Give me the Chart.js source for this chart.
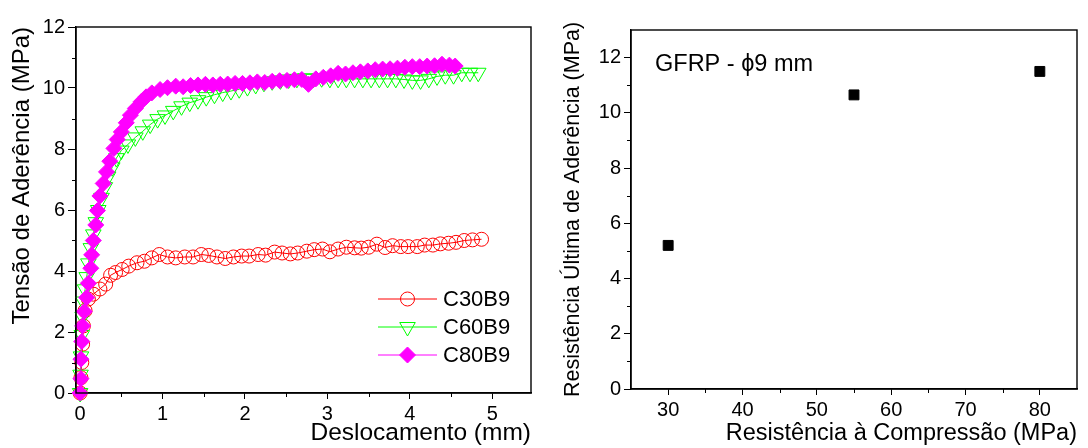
<!DOCTYPE html>
<html><head><meta charset="utf-8">
<script src="https://cdn.jsdelivr.net/npm/chart.js@4.4.1/dist/chart.umd.min.js"></script>
<style>
html,body{margin:0;padding:0;background:#fff;}
#wrap{position:relative;width:1088px;height:448px;overflow:hidden;}
#c1{position:absolute;left:0;top:0;}
#c2{position:absolute;left:545px;top:0;}
</style></head><body>
<div id="wrap"><canvas id="c1" width="545" height="448"></canvas><canvas id="c2" width="543" height="448"></canvas></div>
<script>
// ---------- data: left chart (bond stress vs slip) ----------
const seriesLabels = ['C30B9', 'C60B9', 'C80B9'];
const c30X = [0,0.01,0.02,0.03,0.04,0.06,0.1,0.16,0.24,0.31,0.37,0.43,0.51,0.59,0.69,0.78,0.87,0.96,1.06,1.16,1.27,1.37,1.47,1.56,1.66,1.76,1.86,1.96,2.05,2.16,2.25,2.36,2.45,2.55,2.64,2.75,2.84,2.94,3.03,3.13,3.23,3.33,3.41,3.5,3.6,3.7,3.79,3.89,3.98,4.09,4.18,4.28,4.37,4.47,4.56,4.66,4.76,4.87];
const c30Y = [0,0.5,1.0,1.6,2.2,2.7,3.08,3.24,3.41,3.57,3.86,3.95,4.05,4.16,4.27,4.32,4.43,4.54,4.46,4.43,4.46,4.46,4.54,4.51,4.46,4.41,4.46,4.49,4.49,4.54,4.52,4.62,4.59,4.56,4.59,4.65,4.7,4.72,4.63,4.72,4.78,4.76,4.75,4.78,4.88,4.77,4.83,4.8,4.8,4.8,4.85,4.85,4.89,4.91,4.94,5.0,5.02,5.04];
const c60X = [0,0.005,0.01,0.02,0.03,0.04,0.06,0.08,0.1,0.13,0.16,0.19,0.22,0.26,0.3,0.34,0.39,0.44,0.5,0.58,0.67,0.76,0.85,0.94,1.03,1.13,1.23,1.33,1.43,1.53,1.63,1.73,1.83,1.93,2.03,2.13,2.23,2.33,2.43,2.53,2.63,2.73,2.83,2.93,3.03,3.13,3.23,3.33,3.43,3.53,3.63,3.73,3.83,3.93,4.03,4.13,4.23,4.33,4.43,4.53,4.63,4.73,4.83];
const c60Y = [0,0.6,1.2,1.9,2.5,3.0,3.4,3.8,4.25,4.75,5.2,5.6,6.0,6.4,6.75,7.1,7.4,7.7,7.95,8.15,8.38,8.58,8.8,8.98,9.1,9.25,9.4,9.52,9.6,9.7,9.78,9.85,9.9,9.96,10.03,10.1,10.17,10.22,10.25,10.28,10.3,10.32,10.3,10.32,10.3,10.3,10.3,10.3,10.3,10.3,10.3,10.3,10.3,10.28,10.25,10.25,10.3,10.38,10.42,10.42,10.5,10.5,10.5];
const c80X = [0,0.01,0.01,0.02,0.03,0.05,0.08,0.1,0.13,0.14,0.16,0.19,0.21,0.24,0.28,0.32,0.36,0.41,0.45,0.5,0.56,0.61,0.67,0.74,0.8,0.87,0.97,1.06,1.16,1.25,1.34,1.43,1.52,1.61,1.7,1.79,1.88,1.97,2.06,2.15,2.24,2.33,2.42,2.51,2.6,2.69,2.77,2.86,2.95,3.04,3.13,3.22,3.31,3.4,3.49,3.58,3.67,3.76,3.85,3.94,4.03,4.12,4.21,4.3,4.39,4.48,4.55];
const c80Y = [0,0.47,1.11,1.69,2.2,2.67,3.13,3.6,4.09,4.53,5.0,5.51,5.98,6.46,6.87,7.25,7.6,8.02,8.31,8.56,8.86,9.11,9.33,9.55,9.71,9.84,9.95,10.01,10.06,10.04,10.08,10.1,10.12,10.1,10.12,10.13,10.15,10.15,10.17,10.2,10.18,10.22,10.24,10.25,10.27,10.28,10.12,10.3,10.35,10.4,10.48,10.46,10.5,10.53,10.56,10.6,10.62,10.63,10.65,10.68,10.7,10.7,10.72,10.73,10.78,10.75,10.72];
const xTicksLeft = [0,1,2,3,4,5];
const xMinorLeft = [0.5,1.5,2.5,3.5,4.5];
const yTicksLeft = [0,2,4,6,8,10,12];
const yMinorLeft = [1,3,5,7,9,11];
const xTitleLeft = 'Deslocamento (mm)';
const yTitleLeft = 'Tensão de Aderência (MPa)';

// ---------- data: right chart (ultimate bond strength vs compressive strength) ----------
const compX = [30,55,80];
const bondY = [5.2,10.65,11.5];
const xTicksRight = [30,40,50,60,70,80];
const xMinorRight = [35,45,55,65,75];
const yTicksRight = [0,2,4,6,8,10,12];
const yMinorRight = [1,3,5,7,9,11];
const xTitleRight = 'Resistência à Compressão (MPa)';
const yTitleRight = 'Resistência Última de Aderência (MPa)';
const noteRight = 'GFRP - ϕ9 mm';

const FONT = "'Liberation Sans', Arial, Helvetica, sans-serif";
Chart.defaults.font.family = FONT;
Chart.defaults.color = '#000';

const toPts = (xs, ys) => xs.map((x, i) => ({x: x, y: ys[i]}));

function marker(ctx, style, x, y, r, rot, fill, stroke, lw) {
  ctx.beginPath();
  if (style === 'circle') {
    ctx.arc(x, y, r, 0, Math.PI * 2);
  } else if (style === 'triangle') {
    for (let k = 0; k < 3; k++) {
      const a = rot * Math.PI / 180 + k * 2 * Math.PI / 3;
      const px = x + Math.sin(a) * r, py = y - Math.cos(a) * r;
      if (k) ctx.lineTo(px, py); else ctx.moveTo(px, py);
    }
    ctx.closePath();
  } else if (style === 'rectRot') {
    ctx.moveTo(x, y - r); ctx.lineTo(x + r, y); ctx.lineTo(x, y + r); ctx.lineTo(x - r, y); ctx.closePath();
  }
  if (fill && fill !== 'transparent') { ctx.fillStyle = fill; ctx.fill(); }
  ctx.lineWidth = lw; ctx.strokeStyle = stroke; ctx.stroke();
}

const framePlugin = {
  id: 'frame',
  afterDraw(chart) {
    const {ctx, chartArea: a} = chart;
    ctx.save(); ctx.strokeStyle = '#000'; ctx.lineWidth = 1.4;
    ctx.strokeRect(a.left, a.top, a.right - a.left, a.bottom - a.top);
    ctx.restore();
  }
};

const minorPlugin = {
  id: 'minorTicks',
  afterDraw(chart, args, opts) {
    const {ctx} = chart; const xs = chart.scales.x, ys = chart.scales.y;
    ctx.save(); ctx.strokeStyle = '#000'; ctx.lineWidth = 1; ctx.beginPath();
    (opts.x || []).forEach(v => { const p = Math.round(xs.getPixelForValue(v)) + 0.5; ctx.moveTo(p, xs.top); ctx.lineTo(p, xs.top + opts.len); });
    (opts.y || []).forEach(v => { const p = Math.round(ys.getPixelForValue(v)) + 0.5; ctx.moveTo(ys.right, p); ctx.lineTo(ys.right - opts.len, p); });
    ctx.stroke(); ctx.restore();
  }
};

const legendPlugin = {
  id: 'innerLegend',
  afterDraw(chart, args, opts) {
    if (!opts.show) return;
    const {ctx, chartArea: a} = chart;
    ctx.save();
    ctx.font = opts.size + 'px ' + FONT; ctx.textBaseline = 'middle'; ctx.textAlign = 'left'; ctx.fillStyle = '#000';
    chart.data.datasets.forEach((ds, i) => {
      const y = a.bottom - opts.bottomGap + i * opts.rowGap;
      const x0 = a.right - opts.rightGap;
      ctx.beginPath(); ctx.strokeStyle = ds.borderColor; ctx.lineWidth = 1;
      ctx.moveTo(x0, y); ctx.lineTo(x0 + opts.lineLen, y); ctx.stroke();
      marker(ctx, ds.pointStyle, x0 + opts.lineLen / 2, y, ds.pointRadius, ds.pointRotation || 0, ds.pointBackgroundColor, ds.pointBorderColor, 1);
      ctx.fillStyle = '#000';
      ctx.fillText(ds.label, x0 + opts.lineLen + 6, y + 1);
    });
    ctx.restore();
  }
};

const notePlugin = {
  id: 'note',
  afterDraw(chart, args, opts) {
    if (!opts.text) return;
    const {ctx, chartArea: a} = chart;
    ctx.save(); ctx.font = opts.size + 'px ' + FONT; ctx.fillStyle = '#000';
    ctx.textBaseline = 'middle'; ctx.textAlign = 'left';
    ctx.fillText(opts.text, a.left + opts.dx, a.top + opts.dy);
    ctx.restore();
  }
};

function axis(min, max, majors, titleText, titleSize, titleAlign, titlePad, tickSize, tickLen, tickPad, fitProp, fitVal) {
  return {
    type: 'linear', min: min, max: max,
    afterBuildTicks: s => { s.ticks = majors.map(v => ({value: v})); },
    afterFit: s => { s[fitProp] = fitVal; },
    ticks: {autoSkip: false, maxRotation: 0, font: {size: tickSize}, padding: tickPad, color: '#000'},
    grid: {display: true, drawOnChartArea: false, drawTicks: true, tickLength: tickLen, color: '#000', tickColor: '#000', tickWidth: 1},
    border: {display: true, color: '#000', width: 1.4},
    title: {display: true, text: titleText, align: titleAlign, font: {size: titleSize}, padding: titlePad, color: '#000'}
  };
}

// ---------- left chart ----------
new Chart(document.getElementById('c1'), {
  type: 'scatter',
  data: {
    datasets: [
      {label: seriesLabels[0], data: toPts(c30X, c30Y), showLine: true, borderColor: '#ff0000', borderWidth: 1,
       pointStyle: 'circle', pointRadius: 7, pointBackgroundColor: 'transparent', pointBorderColor: '#ff0000', pointBorderWidth: 1, order: 3, clip: false},
      {label: seriesLabels[1], data: toPts(c60X, c60Y), showLine: true, borderColor: '#00ff00', borderWidth: 1,
       pointStyle: 'triangle', pointRotation: 180, pointRadius: 9, pointBackgroundColor: 'transparent', pointBorderColor: '#00ff00', pointBorderWidth: 1, order: 2, clip: false},
      {label: seriesLabels[2], data: toPts(c80X, c80Y), showLine: true, borderColor: '#ff00ff', borderWidth: 1,
       pointStyle: 'rectRot', pointRadius: 8, pointBackgroundColor: '#ff00ff', pointBorderColor: '#ff00ff', pointBorderWidth: 1, order: 1, clip: false}
    ]
  },
  options: {
    responsive: false, animation: false, events: [],
    layout: {padding: {top: 27, right: 14, left: 0, bottom: 0}},
    scales: {
      x: axis(-0.05, 5.47, xTicksLeft, xTitleLeft, 24.5, 'end', {top: 0, bottom: 0}, 20, 6, 3, 'height', 55),
      y: axis(0, 12, yTicksLeft, yTitleLeft, 24, 'end', {top: 8, bottom: 0}, 20, 8, 3, 'width', 76)
    },
    plugins: {
      legend: {display: false}, tooltip: {enabled: false},
      minorTicks: {x: xMinorLeft, y: yMinorLeft, len: 4},
      innerLegend: {show: true, size: 22, bottomGap: 94, rowGap: 28, rightGap: 153, lineLen: 59},
      note: {}
    }
  },
  plugins: [framePlugin, minorPlugin, legendPlugin, notePlugin]
});

// ---------- right chart ----------
new Chart(document.getElementById('c2'), {
  type: 'scatter',
  data: {
    datasets: [
      {label: 'GFRP', data: toPts(compX, bondY), showLine: false,
       pointStyle: 'rect', pointRadius: 7, pointBackgroundColor: '#000', pointBorderColor: '#000', pointBorderWidth: 1, clip: false}
    ]
  },
  options: {
    responsive: false, animation: false, events: [],
    layout: {padding: {top: 30, right: 11, left: 0, bottom: 0}},
    scales: {
      x: axis(25, 85, xTicksRight, xTitleRight, 23.5, 'end', {top: 0, bottom: 0}, 20, 6, 3, 'height', 59),
      y: axis(0, 13, yTicksRight, yTitleRight, 21.5, 'center', {top: 15, bottom: 0}, 20, 7, 3, 'width', 86)
    },
    plugins: {
      legend: {display: false}, tooltip: {enabled: false},
      minorTicks: {x: xMinorRight, y: yMinorRight, len: 4},
      innerLegend: {show: false},
      note: {text: noteRight, size: 23.5, dx: 24, dy: 35}
    }
  },
  plugins: [framePlugin, minorPlugin, legendPlugin, notePlugin]
});
</script>
</body></html>
